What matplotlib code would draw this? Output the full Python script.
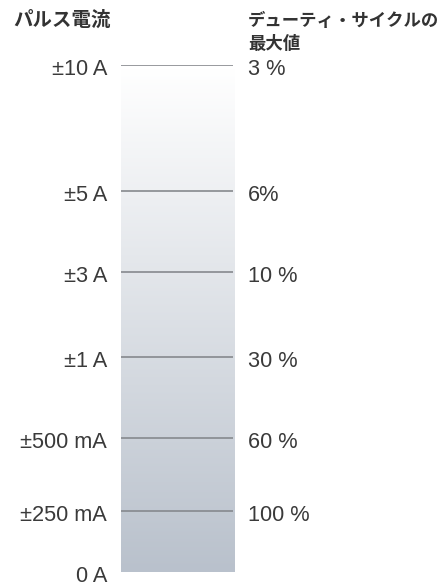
import numpy as np
import matplotlib
matplotlib.use("Agg")
import matplotlib.pyplot as plt
from matplotlib.colors import LinearSegmentedColormap

plt.rcParams['font.family'] = ['Liberation Sans', 'Noto Sans CJK JP', 'DejaVu Sans']

# データ
current_labels = ['0 A', '±250 mA', '±500 mA', '±1 A', '±3 A', '±5 A', '±10 A']
duty_labels = ['', '100 %', '60 %', '30 %', '10 %', '6%', '3 %']
levels = [0, 61, 134.5, 215, 300, 381, 507]  # 棒の下端からの高さ (px)

title_left = 'パルス電流'
title_right = ['デューティ・サイクルの', '最大値']

text_color = '#3a3a3a'
line_color = '#86898e'

fig = plt.figure(figsize=(4.41, 5.88), dpi=100)
W, H = 441, 588
bar_left, bar_right, bar_bottom = 121, 234, 572
top = levels[-1]
ax = fig.add_axes([bar_left / W, (H - bar_bottom) / H,
                   (bar_right - bar_left) / W, top / H])
ax.set_xlim(0, bar_right - bar_left)
ax.set_ylim(0, top)
ax.axis('off')

# グラデーションの棒
cmap = LinearSegmentedColormap.from_list('bar', ['#b9c1cc', '#ffffff'])
grad = np.linspace(0, 1, 256).reshape(-1, 1)
ax.imshow(grad, cmap=cmap, aspect='auto', origin='lower',
          extent=[0, bar_right - bar_left, 0, top - 3], zorder=1)

# 区切り線
ax.hlines(levels[1:], 0, bar_right - bar_left - 1, color=line_color,
          linewidth=1.2, zorder=2)

# ラベル
for y, cl, dl in zip(levels, current_labels, duty_labels):
    ax.text(-14, y - 10, cl, ha='right', va='baseline', fontsize=15.7,
            color=text_color, clip_on=False)
    if dl:
        ax.text(127, y - 10, dl, ha='left', va='baseline', fontsize=15.7,
                color=text_color, clip_on=False)

# タイトル
cjk = ['Noto Sans CJK JP', 'DejaVu Sans']
fig.text(13 / W, 1 - 20 / H, title_left, ha='left', va='center',
         fontsize=14, fontweight='bold', color='#333333', family=cjk)
fig.text(248 / W, 1 - 21 / H, title_right[0], ha='left', va='center',
         fontsize=12.5, fontweight='bold', color='#333333', family=cjk)
fig.text(248 / W, 1 - 44 / H, title_right[1], ha='left', va='center',
         fontsize=12.5, fontweight='bold', color='#333333', family=cjk)

fig.savefig('out.png', dpi=100)
